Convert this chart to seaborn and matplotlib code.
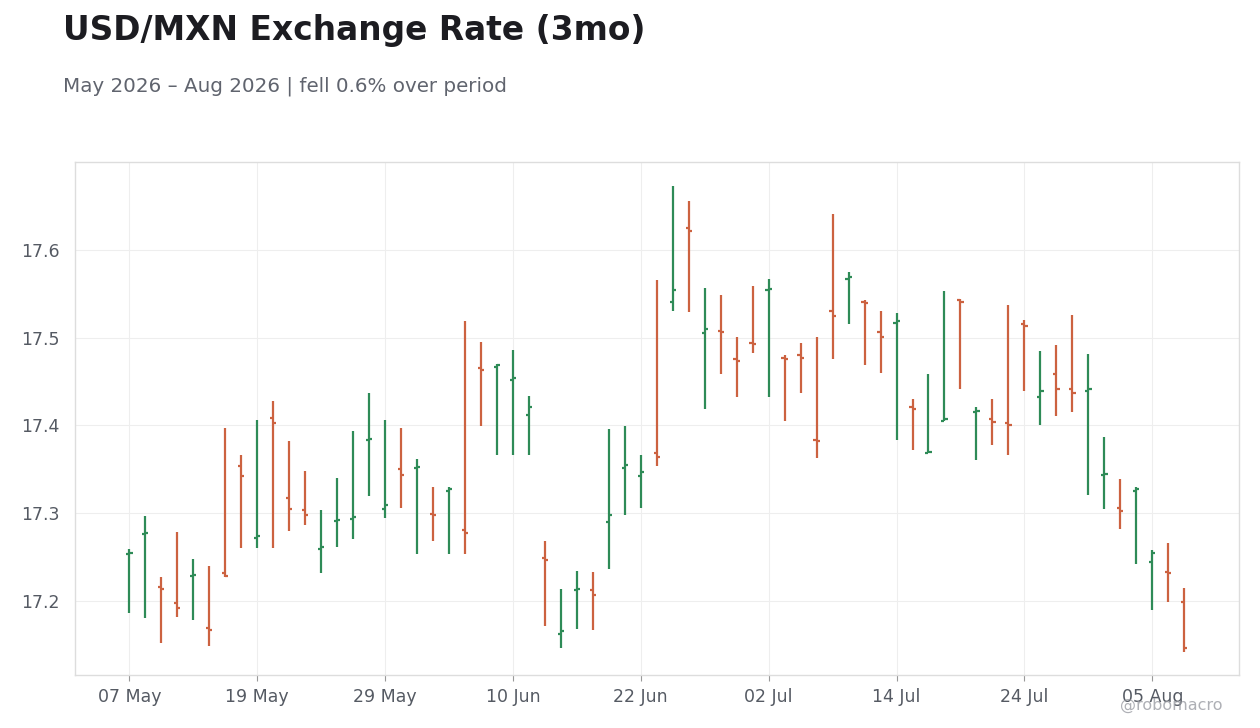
import matplotlib
matplotlib.use("Agg")
import matplotlib.pyplot as plt
import numpy as np
import pandas as pd
import seaborn as sns

# daily OHLC, business days from 07 May 2026
start_date = "2026-05-07"
opens = [17.254, 17.276, 17.216, 17.198, 17.228, 17.169, 17.232, 17.354, 17.272, 17.408,
         17.317, 17.304, 17.259, 17.291, 17.293, 17.383, 17.305, 17.350, 17.352, 17.299,
         17.325, 17.281, 17.465, 17.467, 17.452, 17.412, 17.249, 17.162, 17.212, 17.212,
         17.290, 17.351, 17.342, 17.368, 17.540, 17.625, 17.505, 17.508, 17.476, 17.494,
         17.554, 17.477, 17.480, 17.383, 17.530, 17.567, 17.540, 17.506, 17.517, 17.421,
         17.369, 17.405, 17.543, 17.415, 17.407, 17.403, 17.515, 17.432, 17.458, 17.441,
         17.439, 17.344, 17.306, 17.325, 17.244, 17.233, 17.199]
highs = [17.259, 17.297, 17.227, 17.279, 17.248, 17.240, 17.397, 17.366, 17.406, 17.428,
         17.382, 17.348, 17.304, 17.340, 17.394, 17.437, 17.406, 17.397, 17.362, 17.330,
         17.330, 17.519, 17.495, 17.470, 17.486, 17.434, 17.268, 17.214, 17.234, 17.233,
         17.396, 17.399, 17.366, 17.566, 17.673, 17.655, 17.556, 17.548, 17.501, 17.559,
         17.567, 17.480, 17.494, 17.501, 17.641, 17.575, 17.543, 17.530, 17.528, 17.430,
         17.458, 17.553, 17.544, 17.421, 17.430, 17.537, 17.520, 17.485, 17.491, 17.526,
         17.481, 17.387, 17.339, 17.330, 17.258, 17.266, 17.215]
lows = [17.186, 17.181, 17.152, 17.182, 17.178, 17.149, 17.227, 17.260, 17.260, 17.260,
        17.280, 17.287, 17.232, 17.261, 17.271, 17.320, 17.294, 17.306, 17.254, 17.268,
        17.254, 17.254, 17.399, 17.366, 17.366, 17.366, 17.172, 17.147, 17.168, 17.167,
        17.236, 17.298, 17.306, 17.354, 17.530, 17.529, 17.419, 17.459, 17.432, 17.482,
        17.432, 17.405, 17.437, 17.363, 17.476, 17.515, 17.469, 17.460, 17.383, 17.372,
        17.369, 17.405, 17.441, 17.361, 17.378, 17.366, 17.439, 17.400, 17.411, 17.415,
        17.321, 17.305, 17.282, 17.242, 17.190, 17.199, 17.142]
closes = [17.255, 17.278, 17.214, 17.192, 17.230, 17.167, 17.229, 17.342, 17.274, 17.403,
          17.305, 17.298, 17.261, 17.292, 17.296, 17.385, 17.309, 17.343, 17.353, 17.298,
          17.327, 17.278, 17.463, 17.469, 17.454, 17.421, 17.247, 17.166, 17.214, 17.207,
          17.298, 17.355, 17.347, 17.364, 17.554, 17.621, 17.510, 17.506, 17.473, 17.493,
          17.555, 17.476, 17.477, 17.382, 17.525, 17.569, 17.539, 17.501, 17.519, 17.419,
          17.370, 17.407, 17.541, 17.416, 17.404, 17.401, 17.513, 17.439, 17.442, 17.437,
          17.442, 17.345, 17.303, 17.327, 17.255, 17.232, 17.147]

UP = "#2e8b57"
DOWN = "#cc6240"

df = pd.DataFrame({"open": opens, "high": highs, "low": lows, "close": closes})
df["date"] = pd.bdate_range(start_date, periods=len(df))
df["i"] = np.arange(len(df))
df["color"] = np.where(df["close"] >= df["open"], UP, DOWN)

sns.set_theme(style="whitegrid")
plt.rcParams["font.family"] = ["DejaVu Sans"]

fig = plt.figure(figsize=(12.6, 7.28), dpi=100)
ax = fig.add_axes([0.0595, 0.0728, 0.9235, 0.7047])

tick = 0.2
ax.vlines(df["i"], df["low"], df["high"], colors=df["color"], linewidth=1.6, zorder=3)
ax.hlines(df["open"], df["i"] - tick, df["i"], colors=df["color"], linewidth=1.6, zorder=3)
ax.hlines(df["close"], df["i"], df["i"] + tick, colors=df["color"], linewidth=1.6, zorder=3)

ax.set_xlim(-3.4, len(df) - 1 + 3.4)
ax.set_ylim(17.1157, 17.700)
ax.set_yticks([17.2, 17.3, 17.4, 17.5, 17.6])
ax.set_yticklabels(["17.2", "17.3", "17.4", "17.5", "17.6"])
xt = df["i"][::8]
ax.set_xticks(xt)
ax.set_xticklabels(df["date"][::8].dt.strftime("%d %b"))

ax.grid(True, color="#eeeeee", linewidth=0.8)
ax.set_facecolor("white")
for s in ax.spines.values():
    s.set_color("#dddddd")
    s.set_linewidth(1.0)
ax.tick_params(axis="x", colors="#555a63", labelsize=12.5, length=4, width=0.8,
               direction="out", bottom=True, pad=5)
ax.tick_params(axis="x", color="#999999")
ax.tick_params(axis="y", colors="#555a63", labelsize=12.5, length=0, pad=11)
ax.set_xlabel("")
ax.set_ylabel("")

fig.text(0.05, 0.958, "USD/MXN Exchange Rate (3mo)", fontsize=23.7, fontweight="bold",
         color="#1c1c21", va="center", ha="left")
first, last = opens[0], closes[-1]
chg = (last / first - 1) * 100
word = "fell" if chg < 0 else "rose"
fig.text(0.05, 0.882, "May 2026 \u2013 Aug 2026 | %s %.1f%% over period" % (word, abs(chg)),
         fontsize=14.3, color="#60646e", va="center", ha="left")
fig.text(0.97, 0.031, "@robomacro", fontsize=11.5, color="#9a9ca3", alpha=0.8,
         ha="right", va="center")

plt.savefig("out.png", dpi=100)
